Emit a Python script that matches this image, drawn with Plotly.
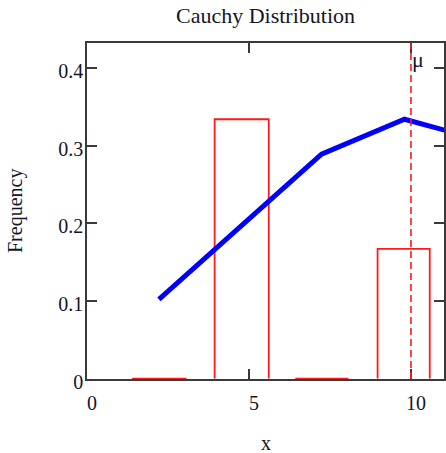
import plotly.graph_objects as go

# ---- data ----
title_text = "Cauchy Distribution"
x_title = "x"
y_title = "Frequency"

bin_left = [1.39, 3.94, 6.43, 8.97]
bin_right = [3.07, 5.61, 8.07, 10.58]
bin_freq = [0.0, 0.334, 0.0, 0.167]

pdf_x = [2.22, 4.75, 7.24, 9.80, 12.35]
pdf_y = [0.102, 0.196, 0.289, 0.334, 0.305]

mu = 10
mu_label = "μ"

x_ticks = [0, 5, 10]
x_ticktext = ["0", "5", "10"]
y_ticks = [0, 0.1, 0.2, 0.3, 0.4]
y_ticktext = ["0", "0.1", "0.2", "0.3", "0.4"]

x_range = [0, 11.02]
y_range = [-0.0006, 0.4322]

# ---- build histogram outline from the bins ----
hx, hy = [], []
for l, r, h in zip(bin_left, bin_right, bin_freq):
    hx += [l, l, r, r, None]
    hy += [0, h, h, 0, None]

SERIF = "Liberation Serif"
AXC = "#3a3a3a"
TXT = "#141428"

fig = go.Figure()
fig.add_trace(go.Scatter(x=hx, y=hy, mode="lines",
                         line=dict(color="#ff1a1a", width=1.8),
                         showlegend=False, hoverinfo="skip"))
fig.add_trace(go.Scatter(x=pdf_x, y=pdf_y, mode="lines",
                         line=dict(color="#0000ff", width=5),
                         showlegend=False))
fig.add_trace(go.Scatter(x=[mu, mu], y=[y_range[0], y_range[1]], mode="lines",
                         line=dict(color="#ff1a1a", width=1.6, dash="7px,4px"),
                         showlegend=False, hoverinfo="skip"))

axis_common = dict(showgrid=False, zeroline=False, showline=True,
                   linecolor=AXC, linewidth=1.5, mirror="ticks",
                   ticks="inside", ticklen=10, tickwidth=1.5, tickcolor=AXC,
                   tickfont=dict(family=SERIF, size=20, color=TXT),
                   layer="below traces")

fig.update_xaxes(range=x_range, tickvals=x_ticks, ticktext=x_ticktext,
                 ticklabelshift=5, ticklabelstandoff=5, **axis_common)
fig.update_yaxes(range=y_range, tickvals=y_ticks, ticktext=y_ticktext,
                 ticklabelshift=3, ticklabelstandoff=-2, **axis_common)

fig.update_layout(
    width=446, height=453,
    margin=dict(l=87, r=2, t=43, b=74, autoexpand=False),
    plot_bgcolor="white", paper_bgcolor="white",
    title=dict(text=title_text, x=0.5, xref="paper", xanchor="center",
               y=1 - 15.5 / 453, yref="container", yanchor="middle",
               font=dict(family=SERIF, size=22, color=TXT)),
    annotations=[
        dict(text=x_title, xref="paper", yref="paper",
             x=0.5, y=-(443 - 378.75) / 335.25, xanchor="center", yanchor="middle",
             showarrow=False, font=dict(family=SERIF, size=20, color=TXT)),
        dict(text=y_title, xref="paper", yref="paper",
             x=-(87 - 15) / 357, y=0.5, xanchor="center", yanchor="middle",
             textangle=-90,
             showarrow=False, font=dict(family=SERIF, size=20, color=TXT)),
        dict(text=mu_label, xref="x", yref="paper",
             x=mu, y=(378.75 - 60) / 335.25, xanchor="left", yanchor="middle",
             xshift=-1, showarrow=False,
             font=dict(family=SERIF, size=22, color=TXT)),
    ],
)

fig.write_html("out.html")
